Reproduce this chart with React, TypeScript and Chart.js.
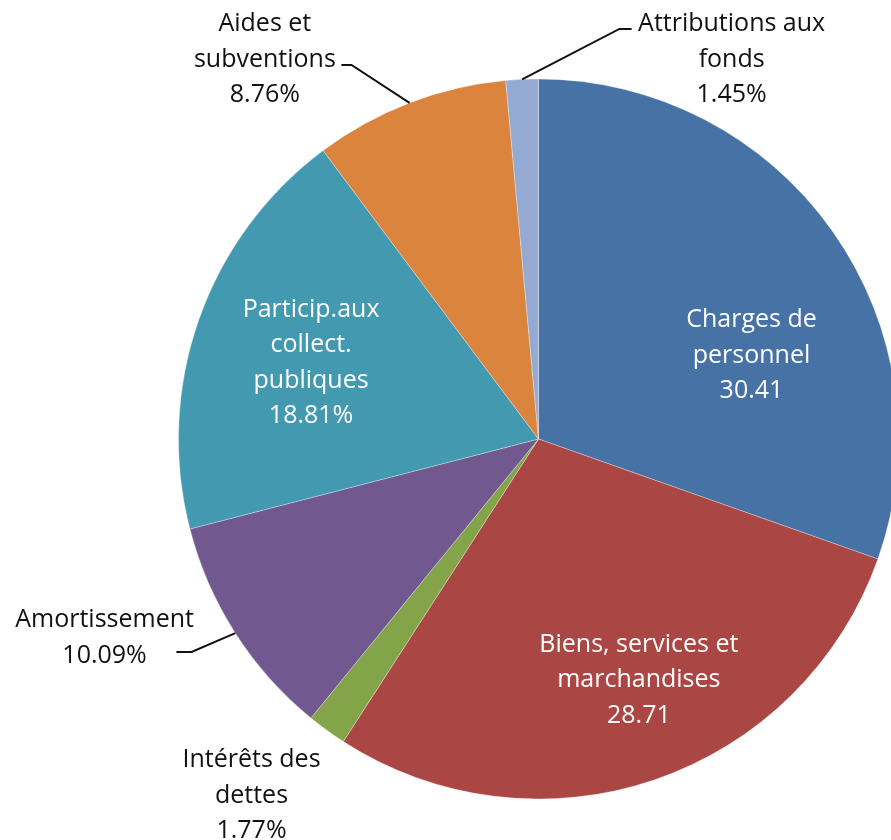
import React, { useEffect, useRef } from "react";
import { Chart, registerables } from "chart.js";

Chart.register(...registerables);

const categories: string[][] = [
  ["Charges de", "personnel"],
  ["Biens, services et", "marchandises"],
  ["Intérêts des", "dettes"],
  ["Amortissement"],
  ["Particip.aux", "collect.", "publiques"],
  ["Aides et", "subventions"],
  ["Attributions aux", "fonds"],
];
const values: number[] = [30.41, 28.71, 1.77, 10.09, 18.81, 8.76, 1.45];
const valueLabels: string[] = ["30.41", "28.71", "1.77%", "10.09%", "18.81%", "8.76%", "1.45%"];
const colors: string[] = ["#4672A6", "#AA4644", "#84A449", "#71588F", "#4299B0", "#DB843D", "#94AAD3"];

// label layout: first-baseline anchor as fraction of radius from pie centre, inside/outside, leader elbow/end
type Layout = { fx: number; fy: number; inside: boolean; leader?: [number, number, number, number] };
const layout: Layout[] = [
  { fx: 0.59, fy: -0.31, inside: true },
  { fx: 0.278, fy: 0.59, inside: true },
  { fx: -0.795, fy: 0.909, inside: false },
  { fx: -1.202, fy: 0.521, inside: false, leader: [-0.961, 0.59, -1.003, 0.59] },
  { fx: -0.63, fy: -0.338, inside: true },
  { fx: -0.758, fy: -1.13, inside: false, leader: [-0.518, -1.036, -0.546, -1.036] },
  { fx: 0.535, fy: -1.13, inside: false, leader: [0.224, -1.136, 0.258, -1.136] },
];

const FONT = '25px "Open Sans"';
const LINE_H = 35.5;

const labelPlugin = {
  id: "pieLabels",
  afterDatasetsDraw(chart: any) {
    const ctx = chart.ctx;
    const meta = chart.getDatasetMeta(0);
    meta.data.forEach((arc: any, i: number) => {
      const { x, y, outerRadius, startAngle, endAngle } = arc.getProps(
        ["x", "y", "outerRadius", "startAngle", "endAngle"],
        true
      );
      const R = 361;
      const L = layout[i];
      ctx.save();
      if (L.leader) {
        const mid = (startAngle + endAngle) / 2;
        ctx.beginPath();
        ctx.moveTo(x + Math.cos(mid) * outerRadius, y + Math.sin(mid) * outerRadius);
        ctx.lineTo(x + L.leader[0] * R, y + L.leader[1] * R);
        ctx.lineTo(x + L.leader[2] * R, y + L.leader[3] * R);
        ctx.strokeStyle = "#111111";
        ctx.lineWidth = 2;
        ctx.stroke();
      }
      const lines = [...categories[i], valueLabels[i]];
      ctx.font = FONT;
      ctx.textAlign = "center";
      ctx.textBaseline = "alphabetic";
      ctx.fillStyle = L.inside ? "#ffffff" : "#111111";
      lines.forEach((t, k) => {
        ctx.fillText(t, x + L.fx * R, y + L.fy * R + k * LINE_H);
      });
      ctx.restore();
    });
  },
};

export default function App() {
  const ref = useRef<HTMLCanvasElement | null>(null);
  useEffect(() => {
    if (!ref.current) return;
    const chart = new Chart(ref.current, {
      type: "pie",
      data: {
        labels: categories.map((c) => c.join(" ")),
        datasets: [
          {
            data: values,
            backgroundColor: colors,
            borderColor: "rgba(255,255,255,0.3)",
            borderWidth: 1,
          },
        ],
      },
      options: {
        responsive: false,
        animation: false,
        layout: { padding: { left: 178, top: 78, right: 21, bottom: 40 } },
        plugins: { legend: { display: false }, tooltip: { enabled: false } },
      },
      plugins: [labelPlugin],
    });
    return () => chart.destroy();
  }, []);
  return (
    <div
      style={{
        position: "fixed",
        left: 0,
        top: 0,
        width: 891,
        height: 840,
        overflow: "hidden",
        background: "#ffffff",
      }}
    >
      <canvas ref={ref} width={920} height={840} style={{ width: 920, height: 840, display: "block" }} />
    </div>
  );
}
